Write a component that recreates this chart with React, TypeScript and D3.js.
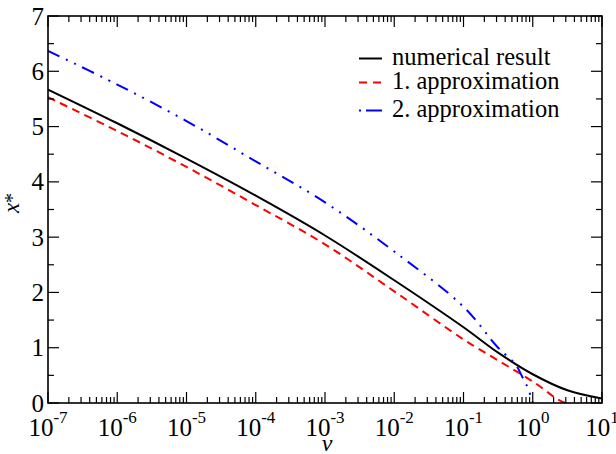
import React from 'react';
import * as d3 from 'd3';

// log10(v) positions and x* values
const numLogV = [-7, -6, -5, -4, -3, -2, -1, -0.5, 0, 0.5, 1];
const numVal = [5.67, 5.06, 4.42, 3.75, 3.03, 2.22, 1.37, 0.91, 0.52, 0.23, 0.08];

const app1LogV = [-7, -6, -5, -4, -3, -2, -1, -0.5, 0, 0.47, 0.75, 1];
const app1Val = [5.53, 4.92, 4.27, 3.58, 2.87, 2.02, 1.15, 0.77, 0.39, 0.0, -0.01, -0.02];

const app2LogV = [-7, -6, -5, -4, -3, -2, -1, -0.5, -0.25, -0.15, -0.07, 0];
const app2Val = [6.37, 5.76, 5.1, 4.37, 3.63, 2.74, 1.74, 1.0, 0.7, 0.47, 0.27, 0.0];

const xTickExps = [-7, -6, -5, -4, -3, -2, -1, 0, 1];
const yTicks = [0, 1, 2, 3, 4, 5, 6, 7];
const yMinor = [0.5, 1.5, 2.5, 3.5, 4.5, 5.5, 6.5];

const legendLabels = ['numerical result', '1. approximation', '2. approximation'];
const seriesColors = ['#000000', '#ff0000', '#0000ff'];
const seriesDash = ['none', '8,5.5', '13,7,2,7,2,7'];

export default function App() {
  const W = 616, H = 454;
  const L = 48, R = 602, T = 16, B = 403;
  const x = d3.scaleLog().domain([1e-7, 1e1]).range([L, R]);
  const y = d3.scaleLinear().domain([0, 7]).range([B, T]);
  const line = d3
    .line<[number, number]>()
    .x((d) => x(Math.pow(10, d[0])))
    .y((d) => y(d[1]))
    .curve(d3.curveCatmullRom.alpha(0.5));

  const series = [
    numLogV.map((v, i) => [v, numVal[i]] as [number, number]),
    app1LogV.map((v, i) => [v, app1Val[i]] as [number, number]),
    app2LogV.map((v, i) => [v, app2Val[i]] as [number, number]),
  ];

  const minorX: number[] = [];
  for (let e = -7; e < 1; e++) for (let k = 2; k <= 9; k++) minorX.push(k * Math.pow(10, e));

  const tstyle = { fontFamily: '"Liberation Serif"' };
  const majLen = 11, minLen = 6;
  const legY = [65, 89, 117];

  return (
    <svg width={W} height={H} style={{ position: 'absolute', left: 0, top: 0, background: '#fff' }}>
      <rect x={0} y={0} width={W} height={H} fill="#fff" />
      <defs>
        <clipPath id="plot">
          <rect x={L} y={T} width={R - L} height={B - T} />
        </clipPath>
      </defs>
      {/* curves */}
      <g clipPath="url(#plot)">
        {series.map((s, i) => (
          <path key={i} d={line(s) || ''} fill="none" stroke={seriesColors[i]} strokeWidth={2}
            strokeDasharray={seriesDash[i]} />
        ))}
      </g>
      {/* frame */}
      <rect x={L} y={T} width={R - L} height={B - T} fill="none" stroke="#000" strokeWidth={1.6} />
      {/* x ticks */}
      {xTickExps.map((e) => {
        const px = x(Math.pow(10, e));
        return (
          <g key={'xt' + e}>
            <line x1={px} x2={px} y1={B} y2={B - majLen} stroke="#000" strokeWidth={1.2} />
            <line x1={px} x2={px} y1={T} y2={T + majLen} stroke="#000" strokeWidth={1.2} />
            <text x={px} y={436} textAnchor="middle" fontSize={25} style={tstyle}>
              10<tspan dy={-13} fontSize={17}>{String(e)}</tspan>
            </text>
          </g>
        );
      })}
      {minorX.map((v, i) => {
        const px = x(v);
        return (
          <g key={'xm' + i}>
            <line x1={px} x2={px} y1={B} y2={B - minLen} stroke="#000" strokeWidth={1.2} />
            <line x1={px} x2={px} y1={T} y2={T + minLen} stroke="#000" strokeWidth={1.2} />
          </g>
        );
      })}
      {/* y ticks */}
      {yTicks.map((t) => {
        const py = y(t);
        return (
          <g key={'yt' + t}>
            <line x1={L} x2={L + majLen} y1={py} y2={py} stroke="#000" strokeWidth={1.2} />
            <line x1={R} x2={R - majLen} y1={py} y2={py} stroke="#000" strokeWidth={1.2} />
            <text x={44} y={py + 8.5} textAnchor="end" fontSize={25} style={tstyle}>{t}</text>
          </g>
        );
      })}
      {yMinor.map((t) => {
        const py = y(t);
        return (
          <g key={'ym' + t}>
            <line x1={L} x2={L + minLen} y1={py} y2={py} stroke="#000" strokeWidth={1.2} />
            <line x1={R} x2={R - minLen} y1={py} y2={py} stroke="#000" strokeWidth={1.2} />
          </g>
        );
      })}
      {/* axis labels */}
      <text x={327} y={451} textAnchor="middle" fontSize={24} fontStyle="italic" style={tstyle}>v</text>
      <text transform="translate(19,203) rotate(-90)" textAnchor="middle" fontSize={23} style={tstyle}>
        <tspan fontStyle="italic">x</tspan>
        <tspan fontSize={20}>*</tspan>
      </text>
      {/* legend */}
      {legendLabels.map((lab, i) => (
        <g key={'lg' + i}>
          <line x1={359} x2={382} y1={legY[i] - 6.5} y2={legY[i] - 6.5} stroke={seriesColors[i]} strokeWidth={2}
            strokeDasharray={i === 0 ? 'none' : i === 1 ? '8,6' : '2,5,16'} />
          <text x={392} y={legY[i]} fontSize={24.5} style={tstyle}>{lab}</text>
        </g>
      ))}
    </svg>
  );
}
